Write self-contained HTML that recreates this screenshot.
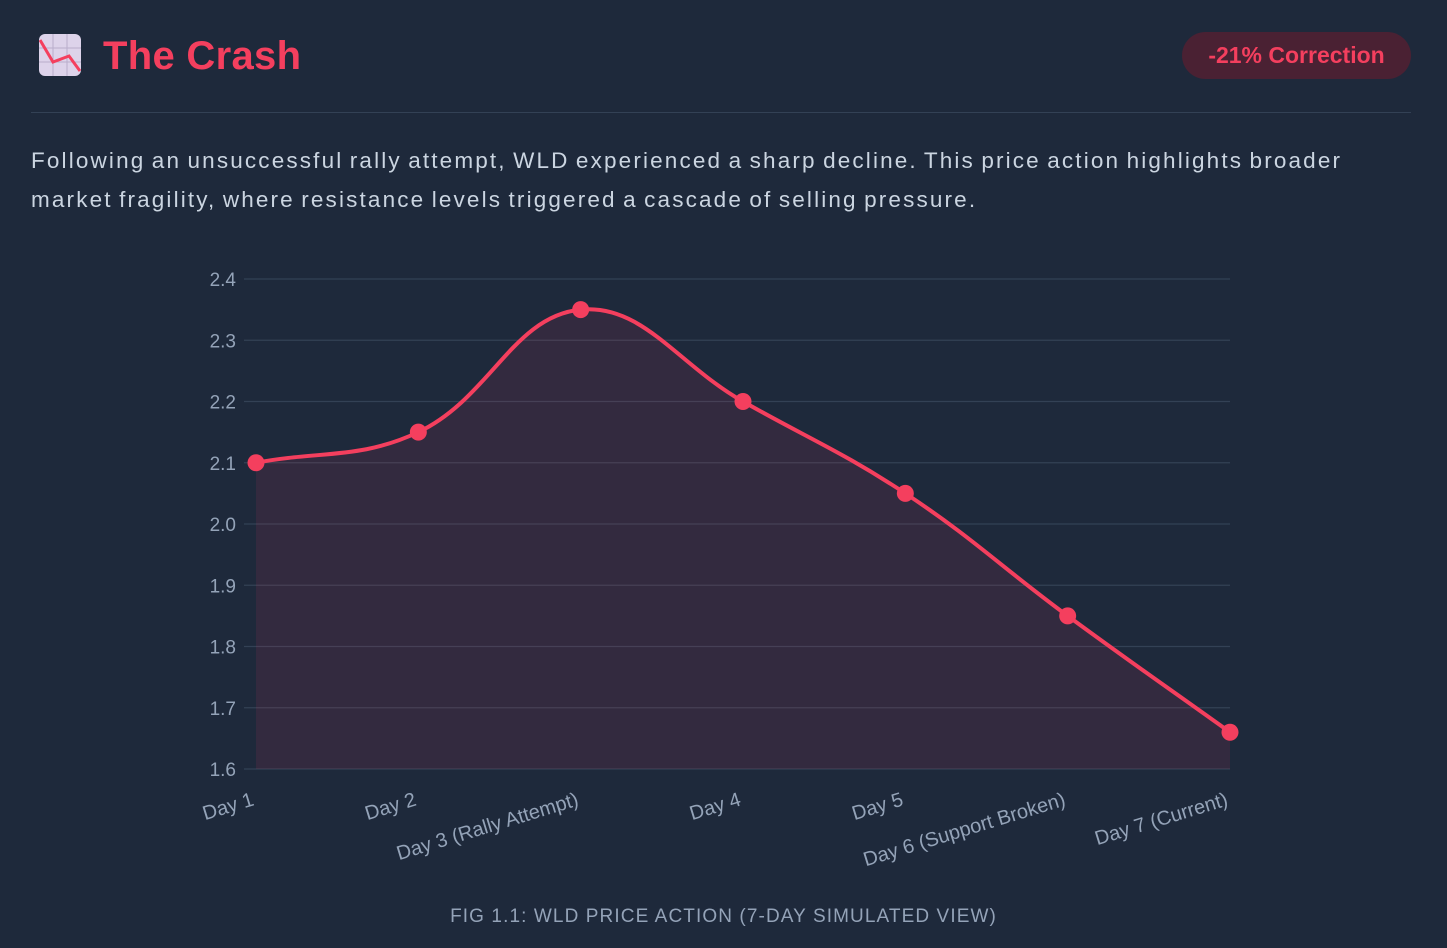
<!DOCTYPE html>
<html><head><meta charset="utf-8"><style>
html,body{margin:0;padding:0;width:1447px;height:948px;background:#1e293b;overflow:hidden;font-family:"Liberation Sans",sans-serif}
.title{position:absolute;left:103px;top:34px;font-size:40px;font-weight:bold;color:#f43f5e;letter-spacing:0.3px}
.icon{position:absolute;left:39px;top:34px;width:42px;height:42px}
.badge{position:absolute;left:1182px;top:32px;width:229px;height:47px;border-radius:24px;background:#4a2133;color:#f43f5e;font-weight:bold;font-size:23px;line-height:47px;text-align:center}
.rule{position:absolute;left:31px;top:112px;width:1380px;height:1px;background:#334155}
.para{position:absolute;left:31px;top:141px;width:1380px;font-size:22.5px;line-height:39px;color:#cbd5e1;letter-spacing:2.15px;word-spacing:-2px}
.cap{position:absolute;left:0;width:1447px;top:906px;text-align:center;font-size:19px;letter-spacing:1.1px;color:#94a3b8}
svg.chart{position:absolute;left:0;top:0}
</style></head><body>
<svg class="icon" viewBox="0 0 42 42">
<rect x="0" y="0" width="42" height="42" rx="6" fill="#ddd3ea"/>
<g stroke="#b9aecb" stroke-width="1"><line x1="14" y1="0" x2="14" y2="42"/><line x1="28" y1="0" x2="28" y2="42"/><line x1="0" y1="14" x2="42" y2="14"/><line x1="0" y1="28" x2="42" y2="28"/></g>
<polyline points="1,6 14,28 30,22 41,37" fill="none" stroke="#f43f5e" stroke-width="3"/>
</svg>
<div class="title">The Crash</div>
<div class="badge">-21% Correction</div>
<div class="rule"></div>
<div class="para">Following an unsuccessful rally attempt, WLD experienced a sharp decline. This price action highlights broader<br>market fragility, where resistance levels triggered a cascade of selling pressure.</div>
<svg class="chart" id="chart" width="1447" height="948"></svg>
<div class="cap">FIG 1.1: WLD PRICE ACTION (7-DAY SIMULATED VIEW)</div>
<script>
const categories=["Day 1","Day 2","Day 3 (Rally Attempt)","Day 4","Day 5","Day 6 (Support Broken)","Day 7 (Current)"];
const prices=[2.10,2.15,2.35,2.20,2.05,1.85,1.66];
const yTicks=[1.6,1.7,1.8,1.9,2.0,2.1,2.2,2.3,2.4];
const NS="http://www.w3.org/2000/svg";
const svg=document.getElementById('chart');
const X0=256,X1=1230,Y0=769,Y1=279,ymin=1.6,ymax=2.4;
const x=i=>X0+(X1-X0)*i/(categories.length-1);
const y=v=>Y0-(v-ymin)/(ymax-ymin)*(Y0-Y1);
function mk(t,a){const e=document.createElementNS(NS,t);for(const k in a)e.setAttribute(k,a[k]);svg.appendChild(e);return e;}
yTicks.forEach(v=>{
 const g=mk('line',{x1:244,x2:X1,y1:y(v),y2:y(v),stroke:'#334155','stroke-width':1.3});
 
 
 const t=mk('text',{x:236,y:y(v)+7,'text-anchor':'end',fill:'#94a3b8','font-size':19,'font-family':'Liberation Sans, sans-serif'});
 t.textContent=v.toFixed(1);
 
 
});
const pts=prices.map((v,i)=>[x(i),y(v)]);
let d=`M${pts[0][0]},${pts[0][1]}`;
const cps=pts.map((p,i)=>{
 const pr=pts[Math.max(i-1,0)],nx=pts[Math.min(i+1,pts.length-1)];
 const d01=Math.hypot(p[0]-pr[0],p[1]-pr[1]),d12=Math.hypot(nx[0]-p[0],nx[1]-p[1]);
 let fa=d01/(d01+d12||1),fb=d12/(d01+d12||1);const t=0.4;fa*=t;fb*=t;
 return {p:[p[0]-fa*(nx[0]-pr[0]),p[1]-fa*(nx[1]-pr[1])],n:[p[0]+fb*(nx[0]-pr[0]),p[1]+fb*(nx[1]-pr[1])]};
});
for(let i=1;i<pts.length;i++){const a=cps[i-1].n,b=cps[i].p;d+=` C${a[0]},${a[1]} ${b[0]},${b[1]} ${pts[i][0]},${pts[i][1]}`;}
const area=mk('path',{d:d+` L${X1},${Y0} L${X0},${Y0} Z`,fill:'rgba(244,63,94,0.1)'});


const line=mk('path',{d:d,fill:'none',stroke:'#f43f5e','stroke-width':4});


pts.forEach(p=>{
 const c=mk('circle',{cx:p[0],cy:p[1],r:8.5,fill:'#f43f5e'});
 
 
});
categories.forEach((c,i)=>{
 const t=mk('text',{x:x(i)-1,y:805,'text-anchor':'end',fill:'#94a3b8','font-size':20,'font-family':'Liberation Sans, sans-serif',transform:`rotate(-17 ${x(i)-1} 805)`});
 t.textContent=c;
 
 
});
</script>
</body></html>
